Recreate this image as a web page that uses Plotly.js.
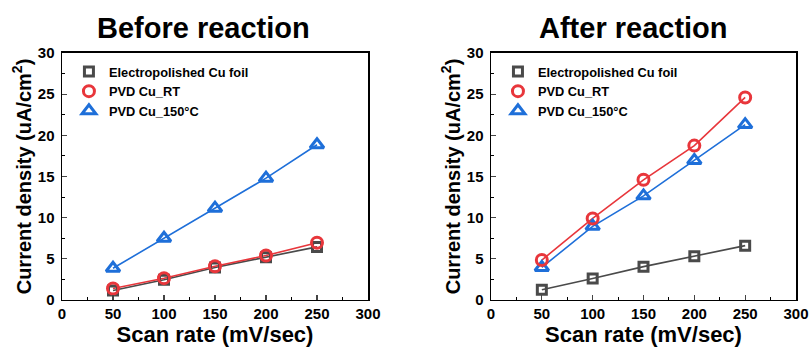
<!DOCTYPE html>
<html><head><meta charset="utf-8">
<script src="https://cdn.plot.ly/plotly-3.0.1.min.js"></script>
<style>html,body{margin:0;padding:0;background:#fff}#c{width:811px;height:350px}</style>
</head><body><div id="c"></div>
<script>
const scanRate = [50, 100, 150, 200, 250];
const seriesNames = ["Electropolished Cu foil", "PVD Cu_RT", "PVD Cu_150\u00B0C"];
const beforeFoil = [1.15, 2.45, 3.95, 5.2, 6.45];
const beforeRT = [1.4, 2.65, 4.1, 5.4, 6.95];
const before150 = [3.85, 7.5, 11.15, 14.8, 18.85];
const afterFoil = [1.25, 2.6, 4.05, 5.3, 6.6];
const afterRT = [4.85, 9.9, 14.6, 18.75, 24.6];
const after150 = [3.95, 8.95, 12.65, 16.95, 21.3];
const xTicks = [0, 50, 100, 150, 200, 250, 300];
const yTicks = [0, 5, 10, 15, 20, 25, 30];

const colors = ["#4a4a4a", "#e8363b", "#1e6fd9"];
const symbols = ["square-open", "circle-open", "triangle-up-open"];
const sizes = [9, 11, 12];
function ln(y, i, xa, ya) {
  return {x: scanRate, y: y, type: 'scatter', mode: 'lines', xaxis: xa, yaxis: ya, showlegend: false,
    hoverinfo: 'skip', line: {color: colors[i], width: 1.6}};
}
function mk(y, i, xa, ya, lg, order) {
  return {x: scanRate, y: y, name: seriesNames[i], type: 'scatter', mode: 'markers',
    xaxis: xa, yaxis: ya, legend: lg, legendrank: order,
    marker: {symbol: symbols[i], size: sizes[i], color: colors[i], line: {width: 3, color: colors[i]}}};
}
const data = [
  ln(beforeFoil, 0, 'x', 'y'), ln(before150, 2, 'x', 'y'), ln(beforeRT, 1, 'x', 'y'),
  ln(afterFoil, 0, 'x2', 'y2'), ln(after150, 2, 'x2', 'y2'), ln(afterRT, 1, 'x2', 'y2'),
  mk(beforeFoil, 0, 'x', 'y', 'legend', 1), mk(before150, 2, 'x', 'y', 'legend', 3), mk(beforeRT, 1, 'x', 'y', 'legend', 2),
  mk(afterFoil, 0, 'x2', 'y2', 'legend2', 1), mk(after150, 2, 'x2', 'y2', 'legend2', 3), mk(afterRT, 1, 'x2', 'y2', 'legend2', 2)
];
const F = "'Liberation Sans', Arial, sans-serif";
function xax(dom) {
  return {domain: dom, range: [0, 300], tickvals: xTicks, ticks: 'inside', ticklen: 5, tickwidth: 1.3,
    showline: true, linewidth: 1.5, linecolor: '#000', mirror: true, showgrid: false, zeroline: false,
    tickfont: {family: F, size: 15, color: '#000', weight: 'bold'},
    minor: {dtick: 25, ticks: 'inside', ticklen: 3, tickwidth: 1, tickcolor: '#000', showgrid: false},
    title: {text: 'Scan rate (mV/sec)', standoff: 4, font: {family: F, size: 22, color: '#000', weight: 'bold'}}};
}
function yax(xa) {
  return {domain: [0.1429, 0.8486], anchor: xa, range: [0, 30], tickvals: yTicks, ticks: 'inside', ticklen: 5, tickwidth: 1.3,
    showline: true, linewidth: 1.5, linecolor: '#000', mirror: true, showgrid: false, zeroline: false,
    ticklabelstandoff: 3,
    tickfont: {family: F, size: 15, color: '#000', weight: 'bold'},
    minor: {dtick: 2.5, ticks: 'inside', ticklen: 3, tickwidth: 1, tickcolor: '#000', showgrid: false},
    title: {text: 'Current density (uA/cm<sup>2</sup>)', standoff: 1, font: {family: F, size: 20, color: '#000', weight: 'bold'}}};
}
const lg = (x) => ({x: x, y: 0.838, xanchor: 'left', yanchor: 'top', bgcolor: 'rgba(0,0,0,0)',
  font: {family: F, size: 12.8, color: '#000', weight: 'bold'}, tracegroupgap: 0, itemwidth: 30});
const layout = {
  width: 811, height: 350, margin: {l: 0, r: 0, t: 0, b: 0}, paper_bgcolor: '#fff', plot_bgcolor: '#fff',
  showlegend: true,
  xaxis: Object.assign(xax([62/811, 368/811]), {anchor: 'y'}),
  yaxis: yax('x'),
  xaxis2: Object.assign(xax([491/811, 796/811]), {anchor: 'y2'}),
  yaxis2: yax('x2'),
  legend: lg(0.085),
  legend2: lg(0.614),
  annotations: [
    {text: 'Before reaction', x: 204/811},
    {text: 'After reaction', x: 633/811}
  ].map(a => Object.assign(a, {xref: 'paper', yref: 'paper', showarrow: false, y: 1 - 28/350,
    xanchor: 'center', yanchor: 'middle', font: {family: F, size: 29, color: '#000', weight: 'bold'}}))
};
Plotly.newPlot('c', data, layout, {displayModeBar: false, staticPlot: true});
</script></body></html>
